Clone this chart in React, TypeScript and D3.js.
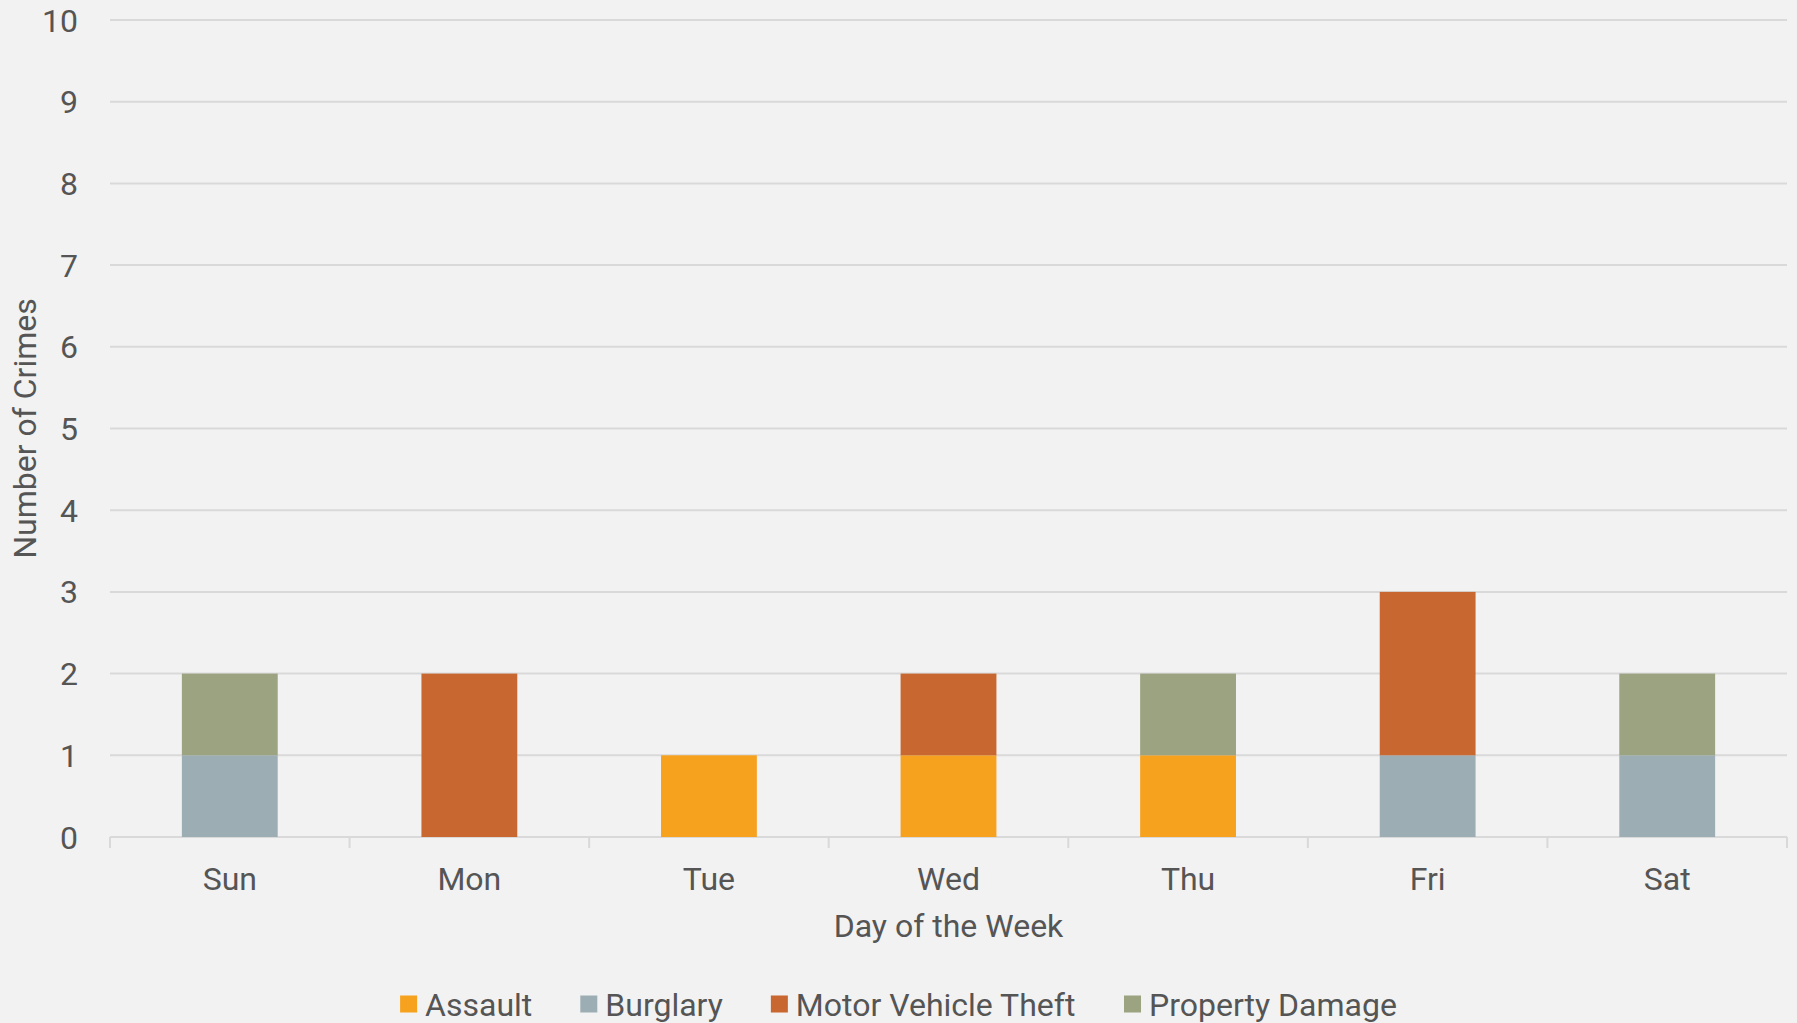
import React from "react";
import * as d3 from "d3";

const days = ["Sun", "Mon", "Tue", "Wed", "Thu", "Fri", "Sat"];
const seriesNames = ["Assault", "Burglary", "Motor Vehicle Theft", "Property Damage"];
const assault = [0, 0, 1, 1, 1, 0, 0];
const burglary = [1, 0, 0, 0, 0, 1, 1];
const motorVehicleTheft = [0, 2, 0, 1, 0, 2, 0];
const propertyDamage = [1, 0, 0, 0, 1, 0, 1];
const yTicks = [0, 1, 2, 3, 4, 5, 6, 7, 8, 9, 10];
const colors = ["#F6A21E", "#9CAEB4", "#C8672F", "#9BA380"];

const W = 1797;
const H = 1023;
const FONT = "Roboto, 'DejaVu Sans', sans-serif";
const TEXT = "#555555";
const GRID = "#D9D9D9";
const WEIGHT = 400;

function textWidth(s: string, size: number) {
  const c = document.createElement("canvas").getContext("2d");
  if (!c) return s.length * size * 0.5;
  c.font = `${WEIGHT} ${size}px Roboto`;
  return c.measureText(s).width;
}

export default function App() {
  const margin = { left: 110, right: 10, top: 20, bottom: 186 };
  const x0 = margin.left, x1 = W - margin.right;
  const yTop = margin.top, yBot = H - margin.bottom;

  const table = days.map((d, i) => ({
    day: d,
    Assault: assault[i],
    Burglary: burglary[i],
    "Motor Vehicle Theft": motorVehicleTheft[i],
    "Property Damage": propertyDamage[i],
  }));
  const stack = d3.stack<any>().keys(seriesNames)(table);

  const x = d3.scaleBand().domain(days).range([x0, x1]).paddingInner(0.6).paddingOuter(0.3);
  const xb = d3.scaleBand().domain(days).range([x0, x1]);
  const y = d3.scaleLinear().domain([0, 10]).range([yBot, yTop]);

  const fs = 32;
  const legendSq = 17;
  const legendGap = 8;
  const itemGap = 48;
  const widths = seriesNames.map((s) => legendSq + legendGap + textWidth(s, fs));
  const total = d3.sum(widths) + itemGap * (seriesNames.length - 1);
  let lx = W / 2 - total / 2;
  const legendPos = widths.map((w) => {
    const p = lx;
    lx += w + itemGap;
    return p;
  });
  const legendY = 1004;

  return (
    <svg width={W} height={H} style={{ position: "absolute", left: 0, top: 0, background: "#F2F2F2" }} fontFamily={FONT} fontWeight={WEIGHT}>
      <rect x={0} y={0} width={W} height={H} fill="#F2F2F2" />
      {yTicks.map((t) => (
        <g key={t}>
          <line x1={x0} x2={x1} y1={y(t)} y2={y(t)} stroke={GRID} strokeWidth={2} />
          <text x={78} y={y(t)} dy="0.36em" textAnchor="end" fontSize={fs} fill={TEXT}>{t}</text>
        </g>
      ))}
      {d3.range(days.length + 1).map((i) => {
        const tx = i < days.length ? (xb(days[i]) as number) : x1;
        return <line key={i} x1={tx} x2={tx} y1={yBot} y2={yBot + 11} stroke={GRID} strokeWidth={2} />;
      })}
      {stack.map((s, si) => (
        <g key={s.key} fill={colors[si]}>
          {s.map((d, i) =>
            d[1] - d[0] > 0 ? (
              <rect key={i} x={x(days[i])} width={x.bandwidth()} y={y(d[1])} height={y(d[0]) - y(d[1])} />
            ) : null
          )}
        </g>
      ))}
      {days.map((d) => (
        <text key={d} x={(xb(d) as number) + xb.bandwidth() / 2} y={890} textAnchor="middle" fontSize={fs} fill={TEXT}>{d}</text>
      ))}
      <text x={(x0 + x1) / 2} y={937} textAnchor="middle" fontSize={fs} fill={TEXT}>Day of the Week</text>
      <text transform={`translate(36, ${(yTop + yBot) / 2}) rotate(-90)`} textAnchor="middle" fontSize={fs} fill={TEXT}>Number of Crimes</text>
      {seriesNames.map((s, i) => (
        <g key={s} transform={`translate(${legendPos[i]}, ${legendY})`}>
          <rect x={0} y={-legendSq / 2} width={legendSq} height={legendSq} fill={colors[i]} />
          <text x={legendSq + legendGap} y={0} dy="0.36em" fontSize={fs} fill={TEXT}>{s}</text>
        </g>
      ))}
    </svg>
  );
}
